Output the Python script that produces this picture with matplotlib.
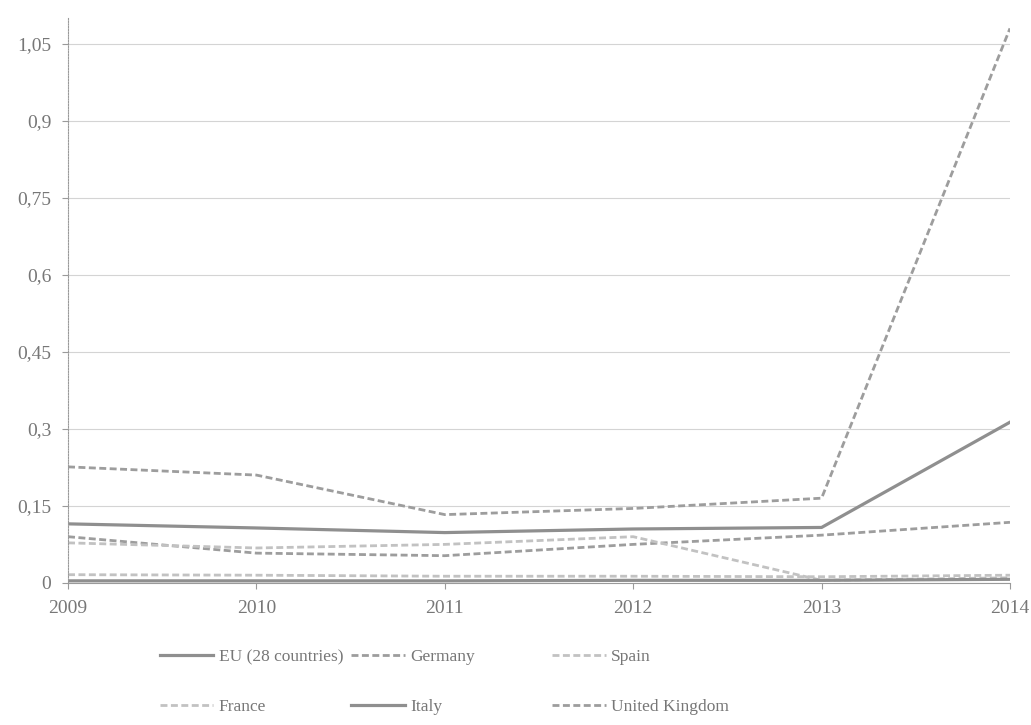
import matplotlib.pyplot as plt
from matplotlib.ticker import FuncFormatter

plt.rcParams['font.family'] = ['Liberation Serif', 'DejaVu Serif']
plt.rcParams['lines.scale_dashes'] = False

# Data
years = [2009, 2010, 2011, 2012, 2013, 2014]
eu = [0.115, 0.107, 0.098, 0.105, 0.108, 0.313]
germany = [0.090, 0.058, 0.053, 0.075, 0.093, 0.118]
spain = [0.016, 0.015, 0.013, 0.013, 0.012, 0.015]
france = [0.078, 0.068, 0.075, 0.090, 0.005, 0.010]
italy = [0.004, 0.004, 0.004, 0.005, 0.005, 0.007]
uk = [0.226, 0.210, 0.133, 0.145, 0.165, 1.080]
yticks = [0, 0.15, 0.3, 0.45, 0.6, 0.75, 0.9, 1.05]

fig = plt.figure(figsize=(10.31, 7.25), dpi=100)
ax = fig.add_axes([0.066, 0.196, 0.9136, 0.779])

dash = (5, 2.5)
l_eu, = ax.plot(years, eu, color='#8f8f8f', lw=2.3, label='EU (28 countries)')
l_de, = ax.plot(years, germany, color='#9d9d9d', lw=2.0, dashes=dash, label='Germany')
l_es, = ax.plot(years, spain, color='#c2c2c2', lw=2.0, dashes=dash, label='Spain')
l_fr, = ax.plot(years, france, color='#c2c2c2', lw=2.0, dashes=dash, label='France')
l_it, = ax.plot(years, italy, color='#8f8f8f', lw=2.3, label='Italy')
l_uk, = ax.plot(years, uk, color='#9d9d9d', lw=2.0, dashes=dash, label='United Kingdom')

ax.set_xlim(2009, 2014)
ax.set_ylim(0, 1.1)
ax.set_yticks(yticks)
ax.set_xticks(years)
ax.yaxis.set_major_formatter(FuncFormatter(lambda v, p: ('%g' % round(v, 2)).replace('.', ',')))
ax.grid(axis='y', color='#d4d4d4', lw=0.8)
ax.set_axisbelow(True)

for s in ['top', 'right']:
    ax.spines[s].set_visible(False)
ax.spines['left'].set_color('#9a9a9a')
ax.spines['left'].set_linestyle((0, (1, 1)))
ax.spines['bottom'].set_color('#9a9a9a')
ax.tick_params(colors='#9a9a9a', labelcolor='#777777', labelsize=14, length=4)
ax.tick_params(axis='x', pad=8)
ax.tick_params(axis='y', pad=8)

# Legend: three columns at fixed positions, row-major order
cols = [([l_eu, l_fr], 0.148), ([l_de, l_it], 0.334), ([l_es, l_uk], 0.529)]
for handles, x in cols:
    lg = fig.legend(handles=handles, loc='upper left', bbox_to_anchor=(x, 0.114),
                    frameon=False, fontsize=12.5, handlelength=3.1, handletextpad=0.3,
                    labelspacing=1.95, borderaxespad=0)
    for t in lg.get_texts():
        t.set_color('#777777')

fig.savefig('out.png', dpi=100, facecolor='white')
